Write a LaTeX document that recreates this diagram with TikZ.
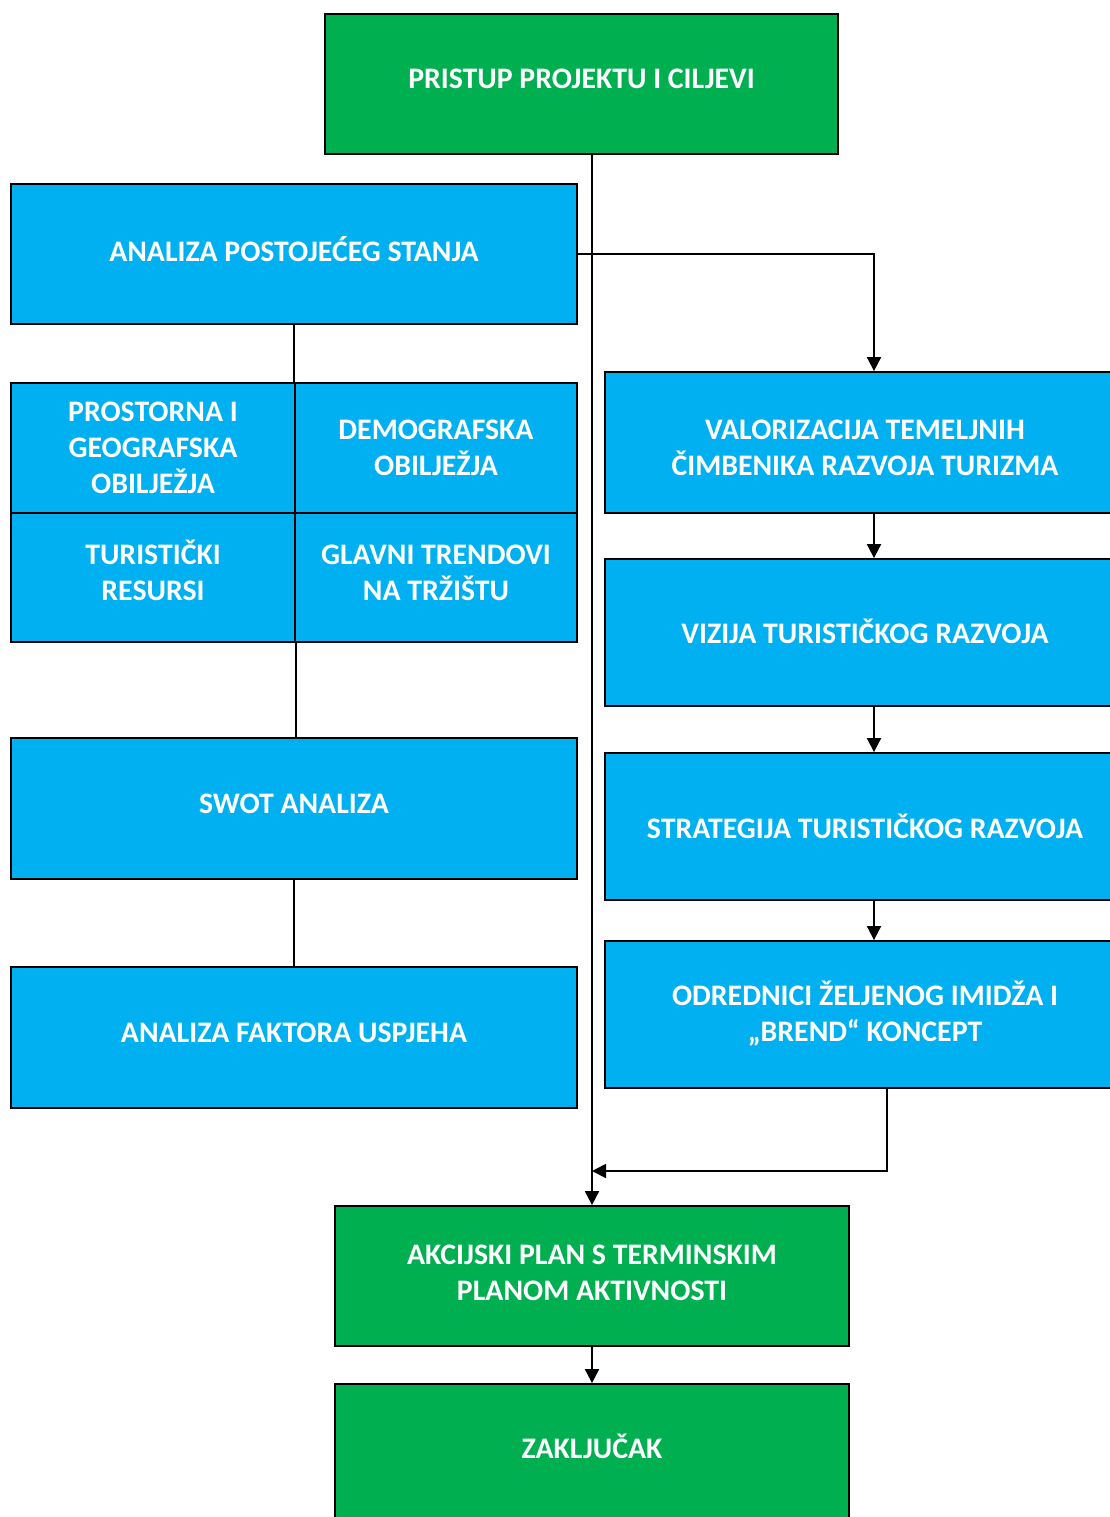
\documentclass[tikz,border=0pt]{standalone}
\usepackage{fontspec}
\setmainfont{Carlito}
\usetikzlibrary{arrows.meta,calc}
\definecolor{kgreen}{HTML}{00B050}
\definecolor{kblue}{HTML}{00B0F0}
\begin{document}
\begin{tikzpicture}[x=1pt,y=-1pt,
  box/.style={draw=black, line width=1.8pt, text=white, font=\fontsize{29.8}{36}\selectfont\bfseries, align=center, inner sep=0pt, text depth=10pt},
  gbox/.style={box, fill=kgreen},
  bbox/.style={box, fill=kblue},
  conn/.style={draw=black, line width=1.8pt},
  arr/.style={conn, -{Triangle[width=14pt,length=14pt]}}
]
\useasboundingbox (0,0) rectangle (1110,1517);
\clip (0,0) rectangle (1110,1517);

\node[gbox, minimum width=513pt, minimum height=140pt] (top) at (581.5,84) {PRISTUP PROJEKTU I CILJEVI};
\node[bbox, minimum width=566pt, minimum height=140pt] (ana) at (294,254) {ANALIZA POSTOJEĆEG STANJA};
\node[bbox, minimum width=284pt, minimum height=130pt, text depth=0pt] (g1) at (153,448) {PROSTORNA I\\GEOGRAFSKA\\OBILJEŽJA};
\node[bbox, minimum width=282pt, minimum height=130pt, text depth=0pt] (g2) at (436,448) {DEMOGRAFSKA\\OBILJEŽJA};
\node[bbox, minimum width=284pt, minimum height=129pt, text depth=14pt] (g3) at (153,577.5) {TURISTIČKI\\RESURSI};
\node[bbox, minimum width=282pt, minimum height=129pt] (g4) at (436,577.5) {GLAVNI TRENDOVI\\NA TRŽIŠTU};
\node[bbox, minimum width=566pt, minimum height=141pt] (swot) at (294,808.5) {SWOT ANALIZA};
\node[bbox, minimum width=566pt, minimum height=141pt] (fak) at (294,1037.5) {ANALIZA FAKTORA USPJEHA};

\node[bbox, minimum width=520pt, minimum height=141pt, text depth=0pt, text height=65pt] (val) at (865,442.5) {VALORIZACIJA TEMELJNIH\\ČIMBENIKA RAZVOJA TURIZMA};
\node[bbox, minimum width=520pt, minimum height=147pt, text depth=2pt] (viz) at (865,632.5) {VIZIJA TURISTIČKOG RAZVOJA};
\node[bbox, minimum width=520pt, minimum height=147pt, text depth=0pt] (str) at (865,826.5) {STRATEGIJA TURISTIČKOG RAZVOJA};
\node[bbox, minimum width=520pt, minimum height=147pt, text depth=6pt] (odr) at (865,1014.5) {ODREDNICI ŽELJENOG IMIDŽA I\\„BREND“ KONCEPT};

\node[gbox, minimum width=514pt, minimum height=140pt, text depth=6pt] (akc) at (592,1276) {AKCIJSKI PLAN S TERMINSKIM\\PLANOM AKTIVNOSTI};
\node[gbox, minimum width=514pt, minimum height=150pt, text depth=25pt] (zak) at (592,1459) {ZAKLJUČAK};

\coordinate (m) at (592,1171);

\draw[arr] (top.south -| akc.north) -- (akc.north);
\draw[arr] (ana.east) -| ([xshift=9pt]val.north);
\draw[conn] (ana.south) -- (ana.south |- g1.north);
\draw[conn] (g3.south east) -- (g3.south east |- swot.north);
\draw[conn] (swot.south) -- (fak.north);
\draw[arr] ([xshift=9pt]val.south) -- ([xshift=9pt]viz.north);
\draw[arr] ([xshift=9pt]viz.south) -- ([xshift=9pt]str.north);
\draw[arr] ([xshift=9pt]str.south) -- ([xshift=9pt]odr.north);
\draw[arr] ([xshift=22pt]odr.south) |- (m);
\draw[arr] (akc.south) -- (zak.north);
\end{tikzpicture}
\end{document}
